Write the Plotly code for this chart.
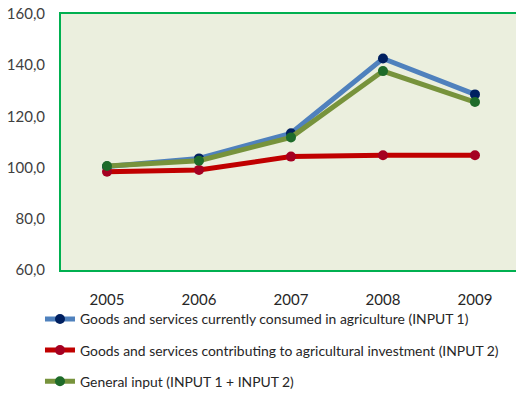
import plotly.graph_objects as go

years = ["2005", "2006", "2007", "2008", "2009"]
input1 = [100.4, 103.6, 113.4, 142.6, 128.6]
input2 = [98.4, 99.1, 104.3, 104.8, 104.8]
general = [100.6, 102.7, 111.8, 137.7, 125.6]

names = [
    "Goods and services currently consumed in agriculture (INPUT 1)",
    "Goods and services contributing to agricultural investment (INPUT 2)",
    "General input (INPUT 1 + INPUT 2)",
]
series = [input1, input2, general]
line_colors = ["#4F81BD", "#C00000", "#77933C"]
marker_colors = ["#002060", "#A50021", "#1E6B2A"]

FONT = "Lato, sans-serif"

fig = go.Figure()
for i, (nm, vals) in enumerate(zip(names, series)):
    fig.add_trace(go.Scatter(
        x=years, y=vals, name=nm, mode="lines+markers",
        line=dict(color=line_colors[i], width=5),
        marker=dict(color=marker_colors[i], size=10),
        legendgroup=f"g{i}",
    ))

fig.update_layout(
    width=516, height=394,
    margin=dict(l=0, r=0, t=0, b=0, autoexpand=False),
    paper_bgcolor="white",
    plot_bgcolor="#EBEFDE",
    separators=", ",
    font=dict(family=FONT, size=15, color="#404040"),
    showlegend=True,
    legend=dict(
        orientation="v",
        x=0.0775, xanchor="left", y=0.2297, yanchor="top",
        font=dict(family=FONT, size=13.9, color="#262626"),
        tracegroupgap=10, bgcolor="rgba(0,0,0,0)",
    ),
    xaxis=dict(
        type="category", range=[-0.5, 4.446], domain=[61 / 516, 1],
        showline=True, linecolor="#00B050", linewidth=2, mirror=True,
        showgrid=False, ticks="", zeroline=False, automargin=False,
        tickfont=dict(family=FONT, size=15, color="#262626"),
        ticklabelstandoff=15,
    ),
    yaxis=dict(
        range=[60, 160], dtick=20, tickformat=".1f",
        domain=[124 / 394, 380 / 394],
        showline=True, linecolor="#00B050", linewidth=2,
        showgrid=False, ticks="", zeroline=False, automargin=False,
        tickfont=dict(family=FONT, size=15, color="#404040"),
        ticklabelstandoff=11,
    ),
)

fig.write_html(
    "out.html",
    config={"displayModeBar": False},
    post_script="document.body.style.margin='0';document.body.style.overflow='hidden';",
)
